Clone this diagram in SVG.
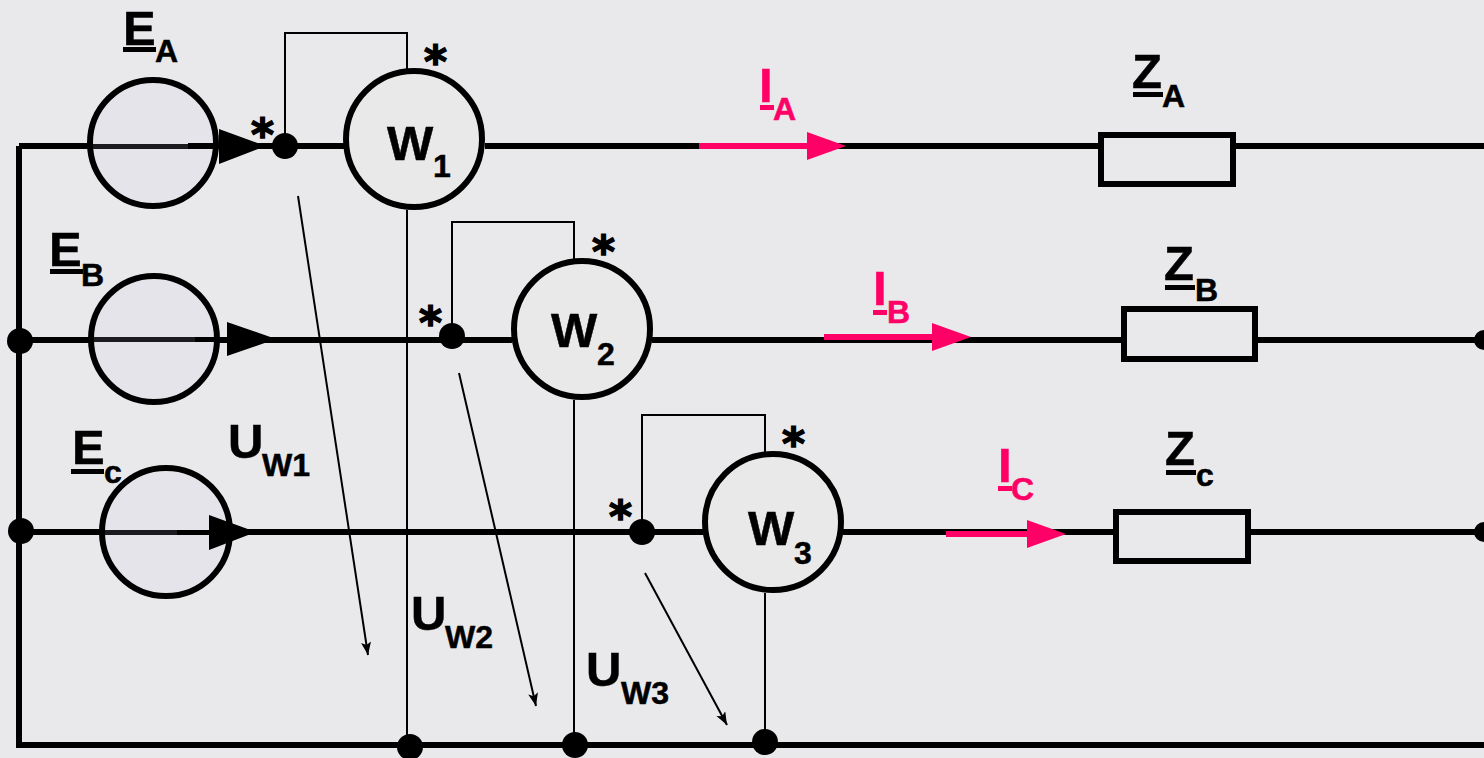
<svg xmlns="http://www.w3.org/2000/svg" width="1484" height="758" viewBox="0 0 1484 758">
<style>
.w{fill:none;stroke:#000;stroke-width:6}
.t{fill:none;stroke:#000;stroke-width:2}
.s{fill:#e4e4ea;stroke:#000;stroke-width:6}
.m{fill:#e9e9e9;stroke:#000;stroke-width:6}
.r{fill:none;stroke:#000;stroke-width:6}
.d{fill:#000}
.p{stroke:#ff0066;stroke-width:6;fill:none}
.pf{fill:#ff0066}
text{font-family:"Liberation Sans",Arial,sans-serif;font-weight:700;fill:#000;stroke:#000;stroke-width:.5}
.big{font-size:49px}
.sub{font-size:32px}
text.pk{fill:#ff0066;stroke:#ff0066}
text.st{font-family:"DejaVu Sans",sans-serif;font-size:44px;stroke-width:1.5}
</style>
<defs>
<marker id="thin" markerUnits="userSpaceOnUse" markerWidth="14" markerHeight="14" refX="13" refY="5" orient="auto"><path d="M0 0L13 5L0 10L3 5Z" fill="#000"/></marker>
</defs>
<rect width="1484" height="758" fill="#e9e9eb"/>
<g id="connectors">
<path class="w" d="M19 146V745H1484"/>
<path class="w" d="M19 146H345M485 146H1100M1234 146H1484"/>
<path class="w" d="M19 340H512M652 340H1123M1256 340H1484"/>
<path class="w" d="M21 532H703M843 532H1115M1249 532H1484"/>
<path class="t" d="M285 146V33H407V70M407 210V745"/>
<path class="t" d="M452 336V222H574V260M574 400V745"/>
<path class="t" d="M642 532V415H765V452M765 593V742"/>
<path class="t" d="M298 196L368 655" marker-end="url(#thin)"/>
<path class="t" d="M459 373L536 706" marker-end="url(#thin)"/>
<path class="t" d="M645 573L727 725" marker-end="url(#thin)"/>
</g>
<g id="source-a"><circle class="s" cx="153" cy="143" r="63"/><rect x="93" y="144" width="95" height="5" fill="#1c1c20"/><path class="d" d="M188 143H219V129L266 146L219 164V149H188Z"/>
<text class="big" x="123" y="45">E</text><rect class="d" x="123" y="47" width="33" height="5"/><text class="sub" x="155" y="62">A</text></g>
<g id="source-b"><circle class="s" cx="154" cy="339" r="63"/><rect x="94" y="337" width="101" height="5" fill="#1c1c20"/><path class="d" d="M195 337H227V322L276 339L227 356V342H195Z"/>
<text class="big" x="49" y="266">E</text><rect class="d" x="50" y="269" width="33" height="5"/><text class="sub" x="81" y="286">B</text></g>
<g id="source-c"><circle class="s" cx="166" cy="532" r="64"/><rect x="105" y="530" width="72" height="5" fill="#1c1c20"/><path class="d" d="M177 530H209V515L256 532L209 550V535H177Z"/>
<text class="big" x="72" y="464">E</text><rect class="d" x="71" y="469" width="33" height="5"/><text class="sub" x="104" y="483">c</text></g>
<g id="wattmeter-1"><circle class="m" cx="414" cy="139" r="68"/><text class="big" x="387" y="160">W</text><text class="sub" x="433" y="177">1</text><text class="st" x="424" y="77">*</text></g>
<g id="wattmeter-2"><circle class="m" cx="582" cy="329" r="68"/><text class="big" x="551" y="347">W</text><text class="sub" x="597" y="365">2</text><text class="st" x="592" y="267">*</text></g>
<g id="wattmeter-3"><circle class="m" cx="773" cy="522" r="68"/><text class="big" x="748" y="545">W</text><text class="sub" x="794" y="564">3</text><text class="st" x="782" y="459">*</text></g>
<g id="junctions">
<circle class="d" cx="285" cy="146" r="13"/><circle class="d" cx="452" cy="336" r="13"/><circle class="d" cx="642" cy="532" r="13"/>
<circle class="d" cx="20" cy="341" r="13"/><circle class="d" cx="21" cy="531" r="13"/>
<circle class="d" cx="1484" cy="340" r="10"/><circle class="d" cx="1484" cy="532" r="10"/>
<circle class="d" cx="410" cy="747" r="13"/><circle class="d" cx="575" cy="745" r="13"/><circle class="d" cx="765" cy="742" r="13"/>
<text class="st" x="251" y="150">*</text><text class="st" x="419" y="338">*</text><text class="st" x="609" y="532">*</text>
</g>
<g id="load-a"><rect class="r" x="1101" y="135" width="132" height="49"/><text class="big" x="1132" y="88">Z</text><rect class="d" x="1133" y="92" width="30" height="5"/><text class="sub" x="1162" y="107">A</text></g>
<g id="load-b"><rect class="r" x="1124" y="309" width="131" height="50"/><text class="big" x="1164" y="280">Z</text><rect class="d" x="1165" y="285" width="30" height="5"/><text class="sub" x="1195" y="301">B</text></g>
<g id="load-c"><rect class="r" x="1116" y="512" width="132" height="49"/><text class="big" x="1165" y="465">Z</text><rect class="d" x="1166" y="470" width="30" height="5"/><text class="sub" x="1196" y="486">c</text></g>
<g id="current-a"><path class="p" d="M699 146H810"/><path class="pf" d="M807 132L846 146L807 160Z"/><text class="big pk" x="759" y="102">I</text><rect class="pf" x="760" y="105" width="14" height="5"/><text class="sub pk" x="773" y="120">A</text></g>
<g id="current-b"><path class="p" d="M824 337H935"/><path class="pf" d="M932 323L971 337L932 351Z"/><text class="big pk" x="873" y="305">I</text><rect class="pf" x="873" y="310" width="14" height="5"/><text class="sub pk" x="887" y="323">B</text></g>
<g id="current-c"><path class="p" d="M946 534H1030"/><path class="pf" d="M1027 520L1066 534L1027 548Z"/><text class="big pk" x="998" y="482">I</text><rect class="pf" x="998" y="486" width="14" height="5"/><text class="sub pk" x="1011" y="500">C</text></g>
<g id="voltage-labels">
<text class="big" x="228" y="458">U</text><text class="sub" x="262" y="476">W1</text>
<text class="big" x="411" y="630">U</text><text class="sub" x="445" y="648">W2</text>
<text class="big" x="586" y="686">U</text><text class="sub" x="621" y="704">W3</text>
</g>
</svg>
